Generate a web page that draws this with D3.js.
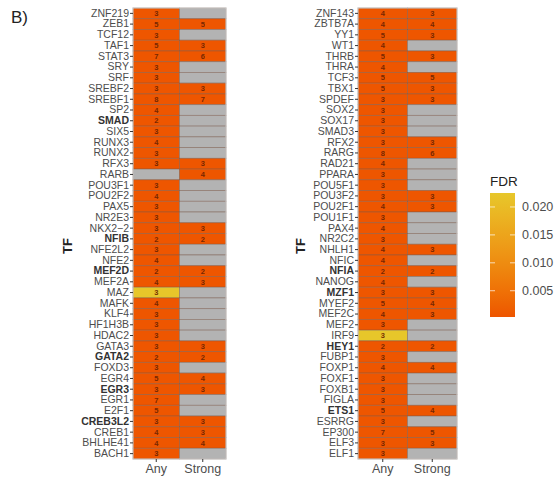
<!DOCTYPE html>
<html lang="en">
<head>
<meta charset="UTF-8">
<title>TF heatmap</title>
<script src="https://d3js.org/d3.v7.min.js"></script>
<style>
  body { margin: 0; background: #fff; }
  svg { font-family: "Liberation Sans", Arial, sans-serif; }
  .ylab { fill: #4d4d4d; font-size: 10.5px; }
  .ylab.bold { fill: #333; font-weight: bold; }
  .xlab { fill: #4d4d4d; font-size: 12.5px; }
  .cellnum { fill: #6b2300; font-size: 7.5px; font-weight: bold; opacity: 0.9; }
</style>
</head>
<body>
<div id="chart"></div>
<script>
// left panel
const leftTF = ["ZNF219","ZEB1","TCF12","TAF1","STAT3","SRY","SRF","SREBF2","SREBF1","SP2",
  "SMAD","SIX5","RUNX3","RUNX2","RFX3","RARB","POU3F1","POU2F2","PAX5","NR2E3",
  "NKX2\u22122","NFIB","NFE2L2","NFE2","MEF2D","MEF2A","MAZ","MAFK","KLF4","HF1H3B",
  "HDAC2","GATA3","GATA2","FOXD3","EGR4","EGR3","EGR1","E2F1","CREB3L2","CREB1",
  "BHLHE41","BACH1"];
const leftAny =    [3,5,3,5,7,3,3,3,8,4, 2,3,4,3,3,null,3,4,3,3, 3,2,3,4,2,4,3,4,3,3, 3,3,2,3,5,3,7,5,3,4, 4,3];
const leftStrong = [null,5,null,3,6,null,null,3,7,null, null,null,null,null,3,4,null,null,null,null,
  3,2,null,null,2,3,null,null,null,null, null,3,2,null,4,3,null,null,3,3, 4,null];
const leftAnyFDR = [0.0005,0.0005,0.0005,0.0005,0.0005,0.0005,0.0005,0.0005,0.0005,0.0005,
  0.0005,0.0005,0.0005,0.0005,0.0005,null,0.0005,0.0005,0.0005,0.0005,
  0.0005,0.0005,0.0005,0.0005,0.0005,0.0005,0.0222,0.0005,0.0005,0.0005,
  0.0005,0.0005,0.0005,0.0005,0.0005,0.0005,0.0005,0.0005,0.0005,0.0005,
  0.0005,0.0005];
const leftStrongFDR = leftStrong.map(v => v == null ? null : 0.0005);
const leftBold = ["SMAD","NFIB","MEF2D","GATA2","EGR3","CREB3L2"];

// right panel
const rightTF = ["ZNF143","ZBTB7A","YY1","WT1","THRB","THRA","TCF3","TBX1","SPDEF","SOX2",
  "SOX17","SMAD3","RFX2","RARG","RAD21","PPARA","POU5F1","POU3F2","POU2F1","POU1F1",
  "PAX4","NR2C2","NHLH1","NFIC","NFIA","NANOG","MZF1","MYEF2","MEF2C","MEF2",
  "IRF9","HEY1","FUBP1","FOXP1","FOXF1","FOXB1","FIGLA","ETS1","ESRRG","EP300",
  "ELF3","ELF1"];
const rightAny =    [4,4,5,4,5,4,5,5,3,3, 3,3,3,8,4,3,3,3,4,3, 4,3,4,4,2,4,3,5,4,3, 3,2,3,4,3,3,3,5,3,7, 3,3];
const rightStrong = [3,4,3,null,3,null,5,3,3,null, null,null,3,6,null,null,null,3,3,null,
  null,null,3,null,2,null,3,4,3,null, null,2,null,4,null,null,null,4,null,5, 3,null];
const rightAnyFDR = [0.0005,0.0005,0.0005,0.0005,0.0005,0.0005,0.0005,0.0005,0.0005,0.0005,
  0.0005,0.0005,0.0005,0.0005,0.0005,0.0005,0.0005,0.0005,0.0005,0.0005,
  0.0005,0.0005,0.0005,0.0005,0.0005,0.0005,0.0005,0.0005,0.0005,0.0005,
  0.0222,0.0005,0.0005,0.0005,0.0005,0.0005,0.0005,0.0005,0.0005,0.0005,
  0.0005,0.0005];
const rightStrongFDR = rightStrong.map(v => v == null ? null : 0.0005);
const rightBold = ["NFIA","MZF1","HEY1","ETS1"];

const columns = ["Any", "Strong"];
const fdrTicks = [0.005, 0.010, 0.015, 0.020];
const fdrDomain = [0.0003, 0.0225];

const W = 556, H = 478;
const svg = d3.select("#chart").append("svg").attr("width", W).attr("height", H);

const color = d3.scaleLinear().domain(fdrDomain).range(["#ee5500", "#e7c72b"])
  .interpolate(d3.interpolateLab);

svg.append("text").attr("x", 11).attr("y", 23).attr("font-size", 17).attr("fill", "#222").text("B)");

function panel(tf, any, strong, anyFDR, strongFDR, bold, x0, x1, titleX) {
  const x = d3.scaleBand().domain(columns).range([x0, x1]);
  const y = d3.scaleBand().domain(tf).range([8, 459]);
  const g = svg.append("g");

  const cells = [];
  tf.forEach((t, i) => {
    cells.push({ tf: t, col: "Any", n: any[i], fdr: anyFDR[i] });
    cells.push({ tf: t, col: "Strong", n: strong[i], fdr: strongFDR[i] });
  });

  g.selectAll("rect.cell").data(cells).join("rect")
    .attr("class", "cell")
    .attr("x", d => x(d.col)).attr("y", d => y(d.tf))
    .attr("width", x.bandwidth()).attr("height", y.bandwidth())
    .attr("fill", d => d.fdr == null ? "#b3b3b3" : color(d.fdr))
    .attr("stroke", "#7a5a4a").attr("stroke-opacity", 0.55).attr("stroke-width", 0.8);

  g.selectAll("text.cellnum").data(cells.filter(d => d.n != null)).join("text")
    .attr("class", "cellnum")
    .attr("x", d => x(d.col) + x.bandwidth() / 2)
    .attr("y", d => y(d.tf) + y.bandwidth() / 2)
    .attr("dy", "0.36em").attr("text-anchor", "middle")
    .text(d => d.n);

  g.append("rect").attr("x", x0).attr("y", 8).attr("width", x1 - x0).attr("height", 451)
    .attr("fill", "none").attr("stroke", "#cfcfcf").attr("stroke-width", 1);

  // y axis
  const yAxis = g.append("g").attr("transform", `translate(${x0},0)`)
    .call(d3.axisLeft(y).tickSize(3).tickPadding(1));
  yAxis.select(".domain").remove();
  yAxis.selectAll(".tick line").attr("stroke", "#333");
  yAxis.selectAll(".tick text").attr("class", d => bold.includes(d) ? "ylab bold" : "ylab")
    .attr("font-size", null).attr("font-family", null).attr("fill", null);

  // x axis
  const xAxis = g.append("g").attr("transform", "translate(0,459)")
    .call(d3.axisBottom(x).tickSize(3).tickPadding(2));
  xAxis.select(".domain").remove();
  xAxis.selectAll(".tick line").attr("stroke", "#333");
  xAxis.selectAll(".tick text").attr("class", "xlab")
    .attr("font-size", null).attr("font-family", null).attr("fill", null);

  svg.append("text")
    .attr("transform", `translate(${titleX},${246}) rotate(-90)`)
    .attr("text-anchor", "middle").attr("font-size", 13).attr("font-weight", "bold")
    .attr("fill", "#222").text("TF");
}

panel(leftTF, leftAny, leftStrong, leftAnyFDR, leftStrongFDR, leftBold, 133, 226, 72);
panel(rightTF, rightAny, rightStrong, rightAnyFDR, rightStrongFDR, rightBold, 358, 457, 305);

// legend
const lx = 490, ly0 = 193, ly1 = 317, lw = 25;
const ls = d3.scaleLinear().domain(fdrDomain).range([ly1, ly0]);
const grad = svg.append("defs").append("linearGradient").attr("id", "fdrgrad")
  .attr("x1", 0).attr("y1", 1).attr("x2", 0).attr("y2", 0);
d3.range(0, 1.0001, 0.1).forEach(t => {
  grad.append("stop").attr("offset", t)
    .attr("stop-color", color(fdrDomain[0] + t * (fdrDomain[1] - fdrDomain[0])));
});
svg.append("text").attr("x", lx).attr("y", 186).attr("font-size", 13.5).attr("fill", "#222").text("FDR");
svg.append("rect").attr("x", lx).attr("y", ly0).attr("width", lw).attr("height", ly1 - ly0)
  .attr("fill", "url(#fdrgrad)");
const lg = svg.append("g");
lg.selectAll("line.l").data(fdrTicks).join("line")
  .attr("x1", lx).attr("x2", lx + 5).attr("y1", d => ls(d)).attr("y2", d => ls(d))
  .attr("stroke", "#fff").attr("stroke-opacity", 0.7);
lg.selectAll("line.r").data(fdrTicks).join("line")
  .attr("x1", lx + lw - 5).attr("x2", lx + lw).attr("y1", d => ls(d)).attr("y2", d => ls(d))
  .attr("stroke", "#fff").attr("stroke-opacity", 0.7);
lg.selectAll("text").data(fdrTicks).join("text")
  .attr("x", lx + lw + 7).attr("y", d => ls(d)).attr("dy", "0.35em")
  .attr("font-size", 12.5).attr("fill", "#4d4d4d")
  .text(d => d3.format(".3f")(d));
</script>
</body>
</html>
